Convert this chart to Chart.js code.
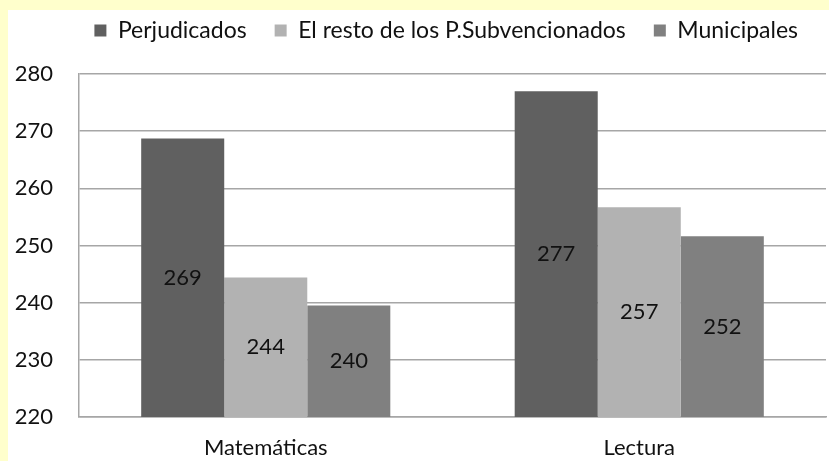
<!DOCTYPE html>
<html>
<head>
<meta charset="utf-8">
<script src="https://cdn.jsdelivr.net/npm/chart.js@4"></script>
<style>
  html, body { margin: 0; padding: 0; background: #ffffcc; }
  #wrap { position: absolute; left: 8px; top: 10px; width: 821px; height: 451px; background: #fff; }
</style>
</head>
<body>
<div id="wrap"><canvas id="chart" width="821" height="451"></canvas></div>
<script>
// values
const categories = ['Matemáticas', 'Lectura'];
const perjudicados = [268.7, 277.0];
const restoSubvencionados = [244.4, 256.7];
const municipales = [239.5, 251.6];
const seriesNames = ['Perjudicados', 'El resto de los P.Subvencionados', 'Municipales'];
const seriesColors = ['#606060', '#b2b2b2', '#808080'];

const fontFamily = 'Lato, sans-serif';

// value labels in the middle of the visible part of each bar
const barLabels = {
  id: 'barLabels',
  afterDatasetsDraw(chart) {
    const c = chart.ctx;
    const bottom = chart.chartArea.bottom;
    c.save();
    c.font = '22px ' + fontFamily;
    c.fillStyle = '#111';
    c.textAlign = 'center';
    c.textBaseline = 'middle';
    chart.data.datasets.forEach((ds, i) => {
      chart.getDatasetMeta(i).data.forEach((bar, j) => {
        const base = Math.min(bar.base, bottom);
        c.fillText(String(Math.round(ds.data[j])), bar.x, (bar.y + base) / 2);
      });
    });
    c.restore();
  }
};

// extra room between legend and plot
const legendGap = {
  id: 'legendGap',
  beforeInit(chart) {
    const fit = chart.legend.fit;
    chart.legend.fit = function () {
      fit.bind(chart.legend)();
      this.height += 22;
    };
  }
};

const ctx = document.getElementById('chart').getContext('2d');
new Chart(ctx, {
  type: 'bar',
  data: {
    labels: categories,
    datasets: [
      { label: seriesNames[0], data: perjudicados, backgroundColor: seriesColors[0] },
      { label: seriesNames[1], data: restoSubvencionados, backgroundColor: seriesColors[1] },
      { label: seriesNames[2], data: municipales, backgroundColor: seriesColors[2] }
    ]
  },
  options: {
    responsive: false,
    animation: false,
    layout: { padding: { left: 7, right: 3, top: -19, bottom: 1 } },
    datasets: { bar: { barPercentage: 1, categoryPercentage: 0.667 } },
    plugins: {
      legend: {
        display: true,
        align: 'end',
        labels: {
          font: { family: fontFamily, size: 23 },
          color: '#111',
          boxWidth: 12,
          boxHeight: 12,
          padding: 28
        }
      },
      tooltip: { enabled: false }
    },
    scales: {
      x: {
        grid: { display: false },
        border: { color: '#a6a6a6', width: 1.5 },
        ticks: { font: { family: fontFamily, size: 22 }, color: '#111', padding: 10 },
        afterFit(scale) { scale.height = 43; }
      },
      y: {
        min: 220,
        max: 280,
        ticks: { stepSize: 10, font: { family: fontFamily, size: 22 }, color: '#111', padding: 26 },
        grid: { color: '#a6a6a6', lineWidth: 1.5, drawTicks: false },
        border: { color: '#a6a6a6', width: 1.5 },
        afterFit(scale) { scale.width = 64; }
      }
    }
  },
  plugins: [barLabels, legendGap]
});
</script>
</body>
</html>
